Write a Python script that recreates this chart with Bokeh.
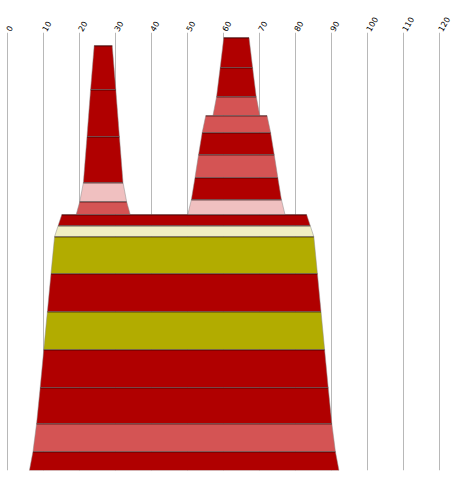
from bokeh.plotting import figure
from bokeh.models import ColumnDataSource, Range1d, FixedTicker
from bokeh.embed import file_html
from bokeh.resources import INLINE
import math

# Tick values along the top axis
x_ticks = [0, 10, 20, 30, 40, 50, 60, 70, 80, 90, 100, 110, 120]

# Base block, listed bottom to top
base_center = 49
base_heights = [19, 28, 36, 38, 38, 38, 37, 11, 11]
base_kinds = ["red", "salmon", "red", "red", "olive", "red", "olive", "cream", "red"]
base_hw_bottom = [43, 42, 41, 40, 39, 38, 37, 36, 35]
base_hw_top = [42, 41, 40, 39, 38, 37, 36, 35, 34]

# Left tower, sitting on the base, bottom to top
left_center = 26.5
left_heights = [13, 19, 46, 47, 44]
left_kinds = ["salmon", "pink", "red", "red", "red"]
left_hw_bottom = [7.5, 6.5, 5.5, 4.5, 3.5]
left_hw_top = [6.5, 5.5, 4.5, 3.5, 2.5]

# Right tower, sitting on the base, bottom to top
right_center = 63.5
right_heights = [15, 22, 23, 22, 17, 19, 29, 30]
right_kinds = ["pink", "red", "salmon", "red", "salmon", "salmon", "red", "red"]
right_hw_bottom = [13.5, 12.5, 11.5, 10.5, 9.5, 6.5, 5.5, 4.5]
right_hw_top = [12.5, 11.5, 10.5, 9.5, 8.5, 5.5, 4.5, 3.5]

palette = {
    "red": "#B00000",
    "salmon": "#D45454",
    "pink": "#F0C0C0",
    "olive": "#B2AC00",
    "cream": "#F0EEC4",
}


def build(center, base, heights, kinds, hw_b, hw_t):
    xs, ys, colors = [], [], []
    tx0, tx1, ty = [], [], []
    y0 = base
    for h, k, hb, ht in zip(heights, kinds, hw_b, hw_t):
        y1 = y0 + h
        xs.append([center - hb, center + hb, center + ht, center - ht])
        ys.append([y0, y0, y1, y1])
        colors.append(palette[k])
        tx0.append(center - ht)
        tx1.append(center + ht)
        # keep the rule on a whole pixel row just inside the segment's top
        ty.append(y1 - 0.5)
        y0 = y1
    return xs, ys, colors, tx0, tx1, ty, y0


W, H = 452, 477
top_pad, bottom_pad = 32, 7
frame_h = H - top_pad - bottom_pad
px_per_unit = 3.6
x0_px = 7.3

p = figure(
    width=W, height=H,
    output_backend="svg", toolbar_location=None,
    x_axis_location="above", y_axis_location=None,
    x_range=Range1d(-x0_px / px_per_unit, (W - x0_px) / px_per_unit),
    y_range=Range1d(0, frame_h),
    min_border_left=0, min_border_right=0,
    min_border_top=top_pad, min_border_bottom=bottom_pad,
)
p.outline_line_color = None
p.background_fill_color = "white"
p.border_fill_color = "white"

p.xaxis.ticker = FixedTicker(ticks=x_ticks)
p.xaxis.axis_line_color = None
p.xaxis.major_tick_line_color = None
p.xaxis.minor_tick_line_color = None
p.xaxis.major_tick_out = 0
p.xaxis.major_tick_in = 0
p.xaxis.major_label_standoff = 2
p.xaxis.major_label_orientation = math.pi / 3
p.xaxis.major_label_text_font = "DejaVu Sans"
p.xaxis.major_label_text_font_size = "8px"
p.xaxis.major_label_text_color = "#000000"

p.xgrid.grid_line_color = "#B8B8B8"
p.xgrid.grid_line_width = 1
p.ygrid.grid_line_color = None

base_xs, base_ys, base_cols, b0, b1, by, base_top = build(
    base_center, 0, base_heights, base_kinds, base_hw_bottom, base_hw_top)
l_xs, l_ys, l_cols, l0, l1, ly, _ = build(
    left_center, base_top, left_heights, left_kinds, left_hw_bottom, left_hw_top)
r_xs, r_ys, r_cols, r0, r1, ry, _ = build(
    right_center, base_top, right_heights, right_kinds, right_hw_bottom, right_hw_top)

src = ColumnDataSource(dict(
    xs=base_xs + l_xs + r_xs,
    ys=base_ys + l_ys + r_ys,
    color=base_cols + l_cols + r_cols,
))
p.patches("xs", "ys", source=src, fill_color="color",
          line_color="#8C8C8C", line_alpha=0.5, line_width=1)

# darker rule along the top of each segment
edges = ColumnDataSource(dict(
    x0=b0 + l0 + r0, x1=b1 + l1 + r1, y=by + ly + ry,
))
p.segment(x0="x0", y0="y", x1="x1", y1="y", source=edges,
          line_color="#1A0000", line_alpha=0.6, line_width=1)

open("out.html", "w").write(file_html(p, INLINE))
